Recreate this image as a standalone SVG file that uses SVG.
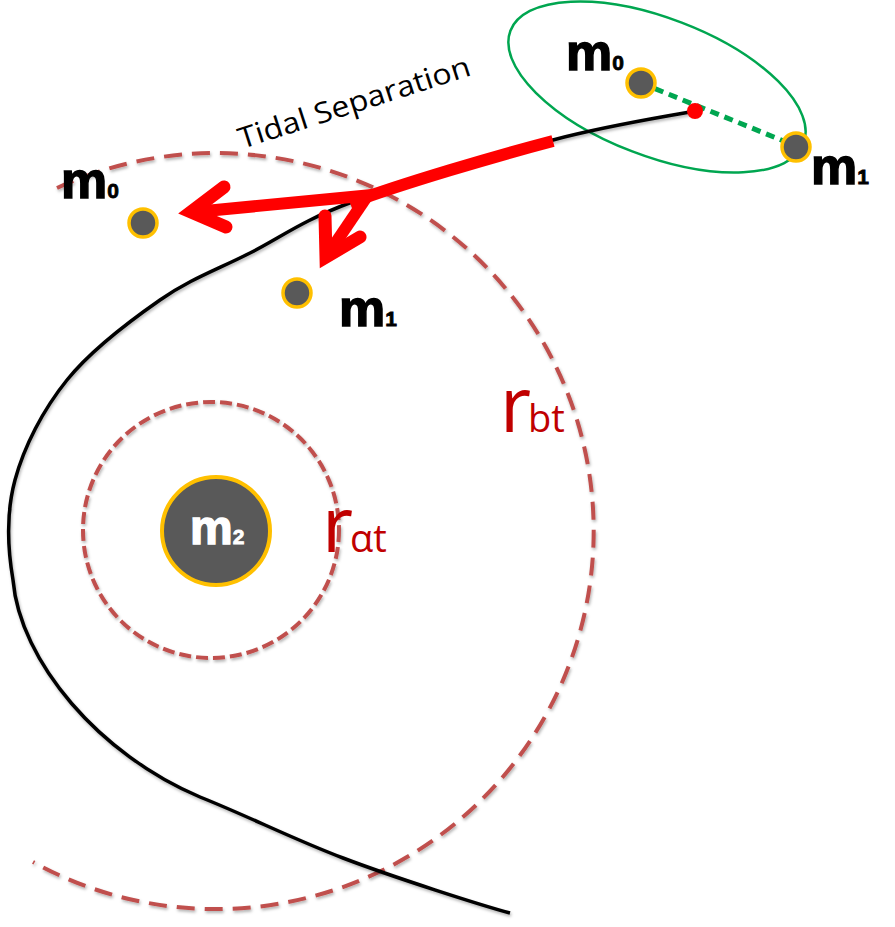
<svg xmlns="http://www.w3.org/2000/svg" width="895" height="927" viewBox="0 0 895 927">
<style>
.dash-big{fill:none;stroke:#C0504D;stroke-width:4;stroke-dasharray:18 10}
.dash-small{fill:none;stroke:#C0504D;stroke-width:4;stroke-dasharray:12 5}
.orbit{fill:none;stroke:#000;stroke-width:3.5}
.body{fill:#595959;stroke:#FFC000;stroke-width:3.5}
.red{fill:none;stroke:#FF0000;stroke-width:12}
.head{fill:none;stroke:#FF0000;stroke-width:13;stroke-linecap:round;stroke-linejoin:miter;stroke-miterlimit:10}
.m{font-family:"Liberation Sans",Arial,sans-serif;font-weight:bold;font-size:52px;fill:#000;stroke:#000;stroke-width:1.5}
.sub{font-size:21px;stroke-width:0.8}
.r{font-family:"Open Sans","Liberation Sans",sans-serif;fill:#C00000}
</style>
<defs>
<filter id="sh" x="-10%" y="-10%" width="120%" height="120%">
<feDropShadow dx="1" dy="2" stdDeviation="1.5" flood-color="#000" flood-opacity="0.3"/>
</filter>
</defs>
<g id="rbt-circle" filter="url(#sh)">
<path class="dash-big" d="M57,188 A378,378 0 1,1 33,862"/>
</g>
<g id="rat-circle" filter="url(#sh)">
<circle class="dash-small" cx="211" cy="530" r="128"/>
</g>
<g id="binary-orbit">
<ellipse cx="657" cy="87" rx="157" ry="69" transform="rotate(21 657 87)" fill="none" stroke="#00A650" stroke-width="2.5"/>
</g>
<g id="connectors">
<path id="trajectory" class="orbit" filter="url(#sh)" d="M695,111 C671.3,115.8 610.2,124.8 553,140 C495.8,155.2 402.5,183.2 352,202 C301.5,220.8 282,236.7 250,253 C218,269.3 190.5,278.8 160,300 C129.5,321.2 91.2,350 67,380 C42.8,410 24,446.7 15,480 C6,513.3 7,545 13,580 C20,662 100,755 200,797 C250,817 291.3,838.3 343,858 C394.7,877.7 482.2,905.5 510,913"/>
<line x1="641" y1="83" x2="796" y2="146" stroke="#00A650" stroke-width="5" stroke-dasharray="9 6"/>
<path class="red" d="M553,141 C495.8,156 402.5,183.5 350,203"/>
<line class="red" x1="372" y1="195" x2="195" y2="212" stroke-width="11"/>
<polyline class="head" points="224,187 191,212 226,227"/>
<line class="red" x1="368" y1="195" x2="328" y2="254" stroke-width="11"/>
<polyline class="head" points="325,216 326,257 360,237"/>
</g>
<g id="red-dot"><circle cx="695" cy="111" r="8" fill="#FF0000"/></g>
<g id="m0-top">
<circle class="body" cx="641" cy="83" r="14"/>
<text class="m" x="566" y="70">m<tspan class="sub">0</tspan></text>
</g>
<g id="m1-top">
<circle class="body" cx="796" cy="147" r="14"/>
<text class="m" x="811" y="184">m<tspan class="sub">1</tspan></text>
</g>
<g id="m0-left">
<circle class="body" cx="143" cy="223" r="14"/>
<text class="m" x="61" y="198">m<tspan class="sub">0</tspan></text>
</g>
<g id="m1-left">
<circle class="body" cx="297" cy="293" r="14"/>
<text class="m" x="339" y="326">m<tspan class="sub">1</tspan></text>
</g>
<g id="m2">
<circle cx="216" cy="531" r="54" fill="#595959" stroke="#FFC000" stroke-width="4"/>
<text class="m" x="190" y="544" style="fill:#fff;stroke:#fff;font-size:48px">m<tspan class="sub">2</tspan></text>
</g>
<g id="label-tidal">
<text x="0" y="0" transform="translate(242,149) rotate(-17.8)" font-family="Open Sans, Liberation Sans, sans-serif" font-size="29" fill="#000" textLength="242" lengthAdjust="spacingAndGlyphs">Tidal Separation</text>
</g>
<g id="label-rbt">
<text class="r" x="500" y="432" font-size="76">r<tspan font-size="38" dx="-3">bt</tspan></text>
</g>
<g id="label-rat">
<text class="r" x="322" y="552" font-size="76">r<tspan font-size="38" dx="-3">αt</tspan></text>
</g>
</svg>
